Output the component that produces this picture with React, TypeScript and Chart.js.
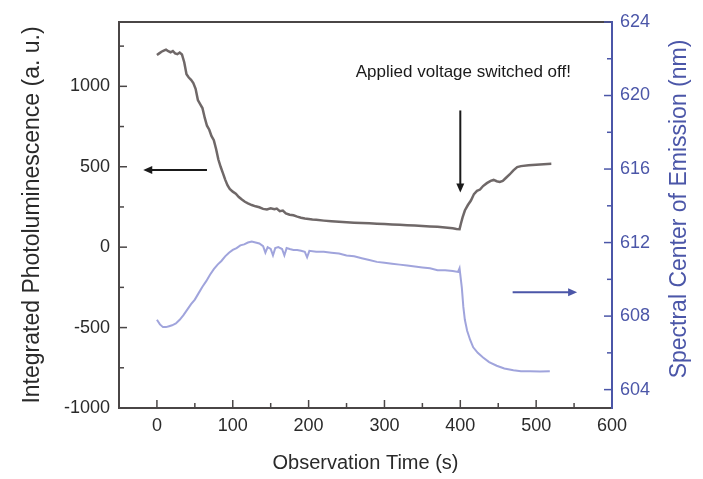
import React, { useEffect, useRef } from "react";
import { Chart, registerables } from "chart.js";

Chart.register(...registerables);

// ---------- data ----------
const plTimes = [
  0, 3, 6, 9, 12, 15, 18, 21, 24, 27, 30, 33, 36, 39, 42, 45, 48, 51, 54, 57,
  60, 63, 66, 69, 72, 75, 78, 81, 84, 87, 90, 93, 96, 100, 104, 108, 112, 116,
  120, 125, 130, 135, 140, 145, 150, 155, 158, 162, 166, 170, 175, 180, 185,
  190, 195, 200, 205, 210, 220, 230, 240, 250, 260, 270, 280, 290, 300, 310,
  320, 330, 340, 350, 360, 370, 380, 390, 395, 399, 401, 403, 406, 410, 414,
  418, 422, 426, 430, 435, 440, 444, 448, 452, 456, 460, 465, 470, 475, 480,
  490, 500, 510, 520,
];
const plValues = [
  1195, 1205, 1215, 1222, 1228, 1218, 1212, 1220, 1205, 1200, 1210, 1198, 1150,
  1075, 1055, 1040, 1020, 985, 915, 890, 865, 805, 755, 730, 690, 665, 610, 545,
  500, 460, 420, 385, 362, 345, 333, 312, 296, 282, 272, 262, 254, 248, 238, 234,
  242, 236, 240, 224, 228, 210, 202, 198, 190, 183, 178, 175, 172, 170, 165, 161,
  158, 155, 152, 150, 148, 146, 144, 141, 139, 137, 134, 132, 129, 127, 122, 117,
  113, 112, 150, 185, 228, 262, 290, 330, 350, 358, 380, 398, 412, 418, 410, 406,
  412, 430, 452, 478, 498, 504, 510, 513, 516, 518,
];

const scTimes = [
  0, 4, 8, 12, 16, 20, 25, 30, 35, 40, 45, 50, 55, 60, 65, 70, 75, 80, 85, 90,
  95, 100, 105, 110, 115, 120, 125, 130, 135, 140, 143, 146, 150, 153, 156, 160,
  165, 168, 171, 175, 180, 185, 190, 195, 198, 201, 210, 220, 230, 240, 250, 260,
  270, 280, 290, 300, 310, 320, 330, 340, 350, 360, 370, 380, 390, 397, 399, 402,
  404, 406, 409, 413, 417, 423, 430, 438, 448, 458, 470, 480, 492, 505, 518,
];
const scValues = [
  607.8, 607.55, 607.4, 607.4, 607.45, 607.5, 607.6, 607.8, 608.05, 608.35,
  608.65, 608.9, 609.25, 609.6, 609.9, 610.25, 610.55, 610.8, 611.0, 611.25,
  611.45, 611.6, 611.7, 611.85, 611.9, 612.0, 612.05, 612.0, 611.95, 611.8,
  611.45, 611.75, 611.65, 611.3, 611.7, 611.75, 611.65, 611.3, 611.7, 611.65,
  611.6, 611.6, 611.55, 611.5, 611.2, 611.55, 611.5, 611.5, 611.45, 611.4, 611.3,
  611.25, 611.15, 611.05, 610.95, 610.9, 610.85, 610.8, 610.75, 610.7, 610.65,
  610.6, 610.5, 610.5, 610.45, 610.4, 610.6, 609.55, 608.5, 607.8, 607.2, 606.7,
  606.3, 606.0, 605.75, 605.5, 605.3, 605.15, 605.05, 605.0, 605.0, 604.98, 605.0,
];

const xMajorTicks = [0, 100, 200, 300, 400, 500, 600];
const xMinorTicks = [50, 150, 250, 350, 450, 550];
const plMajorTicks = [-1000, -500, 0, 500, 1000];
const plMinorTicks = [-750, -250, 250, 750, 1250];
const scMajorTicks = [604, 608, 612, 616, 620, 624];
const scMinorTicks = [606, 610, 614, 618, 622];

const xTitle = "Observation Time (s)";
const plTitle = "Integrated Photoluminescence (a. u.)";
const scTitle = "Spectral Center of Emission (nm)";
const annotationText = "Applied voltage switched off!";

// annotation anchors in data units
const annotationAt = { x: 404, y: 1085 };
const switchArrow = { x: 400, yFrom: 850, yTo: 340 };
const plArrow = { y: 480, xFrom: 66, xTo: -18 };
const scArrow = { y: 609.3, xFrom: 469, xTo: 554 };

// ---------- styles ----------
const FONT = "'Liberation Sans', Arial, Helvetica, sans-serif";
const DARK = "#4a4646";
const TEXT = "#2a2a2a";
const BLUE = "#4b56a8";
const PL_LINE = "rgba(95,88,88,0.9)";
const SC_LINE = "rgba(120,126,205,0.7)";

function arrow(ctx: CanvasRenderingContext2D, x1: number, y1: number, x2: number, y2: number, color: string) {
  const ang = Math.atan2(y2 - y1, x2 - x1);
  const hl = 9;
  const hw = 4;
  ctx.strokeStyle = color;
  ctx.fillStyle = color;
  ctx.lineWidth = 2;
  ctx.beginPath();
  ctx.moveTo(x1, y1);
  ctx.lineTo(x2 - Math.cos(ang) * (hl - 1), y2 - Math.sin(ang) * (hl - 1));
  ctx.stroke();
  ctx.beginPath();
  ctx.moveTo(x2, y2);
  ctx.lineTo(x2 - Math.cos(ang) * hl - Math.sin(ang) * hw, y2 - Math.sin(ang) * hl + Math.cos(ang) * hw);
  ctx.lineTo(x2 - Math.cos(ang) * hl + Math.sin(ang) * hw, y2 - Math.sin(ang) * hl - Math.cos(ang) * hw);
  ctx.closePath();
  ctx.fill();
}

const framePlugin = {
  id: "frameAndNotes",
  afterDatasetsDraw(chart: any) {
    const { ctx, chartArea, scales } = chart;
    const { left, right, top, bottom } = chartArea;
    const sx = scales.x;
    const sy = scales.y;
    const sy1 = scales.y1;
    ctx.save();
    // frame
    ctx.lineWidth = 2;
    ctx.strokeStyle = DARK;
    ctx.beginPath();
    ctx.moveTo(right, top);
    ctx.lineTo(left, top);
    ctx.lineTo(left, bottom);
    ctx.lineTo(right, bottom);
    ctx.stroke();
    ctx.strokeStyle = BLUE;
    ctx.beginPath();
    ctx.moveTo(right, top - 1);
    ctx.lineTo(right, bottom + 1);
    ctx.stroke();

    const major = 8;
    const minor = 5;
    // x ticks (inward)
    ctx.strokeStyle = DARK;
    ctx.lineWidth = 1.5;
    const xt = (v: number, len: number) => {
      const p = sx.getPixelForValue(v);
      ctx.beginPath();
      ctx.moveTo(p, bottom);
      ctx.lineTo(p, bottom - len);
      ctx.stroke();
    };
    xMajorTicks.filter((v) => v < 600).forEach((v) => xt(v, major));
    xMinorTicks.forEach((v) => xt(v, minor));
    // left ticks
    const lt = (v: number, len: number) => {
      const p = sy.getPixelForValue(v);
      ctx.beginPath();
      ctx.moveTo(left, p);
      ctx.lineTo(left + len, p);
      ctx.stroke();
    };
    plMajorTicks.forEach((v) => lt(v, major));
    plMinorTicks.forEach((v) => lt(v, minor));
    // right ticks
    ctx.strokeStyle = BLUE;
    const rt = (v: number, len: number) => {
      const p = sy1.getPixelForValue(v);
      ctx.beginPath();
      ctx.moveTo(right, p);
      ctx.lineTo(right - len, p);
      ctx.stroke();
    };
    scMajorTicks.forEach((v) => rt(v, major));
    scMinorTicks.forEach((v) => rt(v, minor));

    // arrows
    arrow(ctx, sx.getPixelForValue(switchArrow.x), sy.getPixelForValue(switchArrow.yFrom),
      sx.getPixelForValue(switchArrow.x), sy.getPixelForValue(switchArrow.yTo), "#1a1a1a");
    arrow(ctx, sx.getPixelForValue(plArrow.xFrom), sy.getPixelForValue(plArrow.y),
      sx.getPixelForValue(plArrow.xTo), sy.getPixelForValue(plArrow.y), "#1a1a1a");
    arrow(ctx, sx.getPixelForValue(scArrow.xFrom), sy1.getPixelForValue(scArrow.y),
      sx.getPixelForValue(scArrow.xTo), sy1.getPixelForValue(scArrow.y), BLUE);

    // annotation text
    ctx.fillStyle = "#1a1a1a";
    ctx.font = `17px ${FONT}`;
    ctx.textAlign = "center";
    ctx.textBaseline = "middle";
    ctx.fillText(annotationText, sx.getPixelForValue(annotationAt.x), sy.getPixelForValue(annotationAt.y));

    // right axis title (reads bottom-to-top)
    ctx.save();
    ctx.translate(680, (top + bottom) / 2 - 6);
    ctx.rotate(-Math.PI / 2);
    ctx.fillStyle = BLUE;
    ctx.font = `23px ${FONT}`;
    ctx.textAlign = "center";
    ctx.textBaseline = "middle";
    ctx.fillText(scTitle, 0, 0);
    ctx.restore();

    ctx.restore();
  },
};

const plainLabel = (v: any) => String(v);

export default function App() {
  const ref = useRef<HTMLCanvasElement | null>(null);
  useEffect(() => {
    if (!ref.current) return;
    const chart = new Chart(ref.current, {
      type: "line",
      data: {
        datasets: [
          {
            label: "Integrated Photoluminescence",
            data: plTimes.map((t, i) => ({ x: t, y: plValues[i] })),
            yAxisID: "y",
            borderColor: PL_LINE,
            borderWidth: 2.5,
            pointRadius: 0,
            tension: 0,
          },
          {
            label: "Spectral Center of Emission",
            data: scTimes.map((t, i) => ({ x: t, y: scValues[i] })),
            yAxisID: "y1",
            borderColor: SC_LINE,
            borderWidth: 2,
            pointRadius: 0,
            tension: 0,
          },
        ],
      },
      options: {
        animation: false,
        responsive: false,
        layout: { padding: { top: 22, left: 0, right: 0, bottom: 0 } },
        plugins: { legend: { display: false }, tooltip: { enabled: false } },
        scales: {
          x: {
            type: "linear",
            min: -50,
            max: 600,
            afterBuildTicks: (s: any) => {
              s.ticks = xMajorTicks.map((v) => ({ value: v }));
            },
            afterFit: (s: any) => {
              s.height = 71;
            },
            grid: { display: false, drawTicks: false },
            border: { display: false },
            ticks: { color: TEXT, font: { family: FONT, size: 18 }, padding: 7, maxRotation: 0, callback: plainLabel },
            title: {
              display: true,
              text: xTitle,
              color: TEXT,
              font: { family: FONT, size: 20 },
              padding: { top: 0, bottom: 4 },
            },
          },
          y: {
            type: "linear",
            position: "left",
            min: -1000,
            max: 1400,
            afterBuildTicks: (s: any) => {
              s.ticks = plMajorTicks.map((v) => ({ value: v }));
            },
            afterFit: (s: any) => {
              s.width = 119;
            },
            grid: { display: false, drawTicks: false },
            border: { display: false },
            ticks: { color: TEXT, font: { family: FONT, size: 18 }, padding: 9, callback: plainLabel },
            title: {
              display: true,
              text: plTitle,
              color: TEXT,
              font: { family: FONT, size: 23 },
              padding: { top: 19, bottom: 0 },
            },
          },
          y1: {
            type: "linear",
            position: "right",
            min: 603,
            max: 624,
            afterBuildTicks: (s: any) => {
              s.ticks = scMajorTicks.map((v) => ({ value: v }));
            },
            afterFit: (s: any) => {
              s.width = 91;
            },
            grid: { display: false, drawTicks: false },
            border: { display: false },
            ticks: { color: BLUE, font: { family: FONT, size: 18 }, padding: 8, callback: plainLabel },
            title: { display: false },
          },
        },
      },
      plugins: [framePlugin],
    } as any);
    return () => chart.destroy();
  }, []);
  return (
    <div style={{ position: "fixed", left: 0, top: 0, width: 703, height: 479, background: "#fff" }}>
      <canvas ref={ref} width={703} height={479} />
    </div>
  );
}
